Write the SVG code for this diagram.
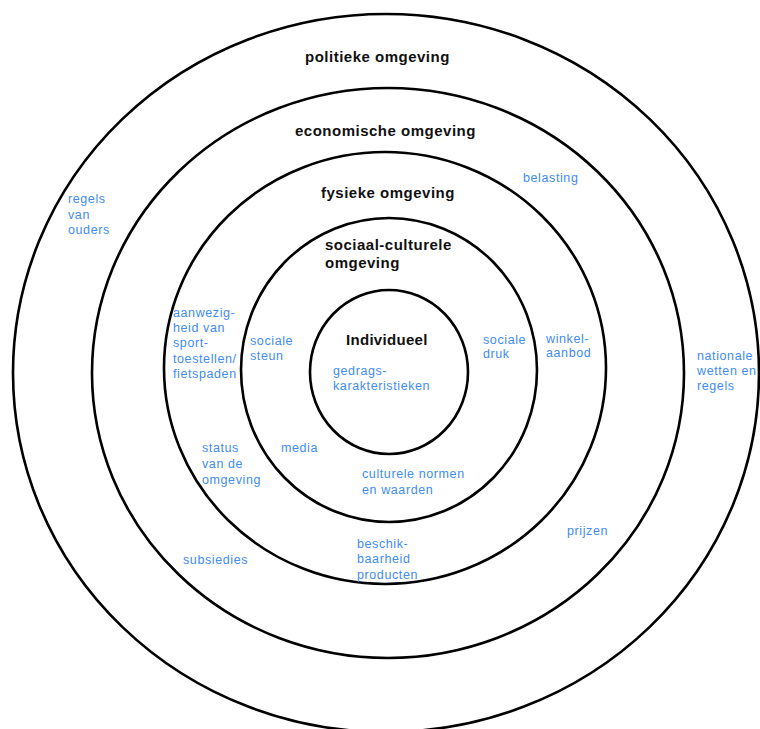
<svg xmlns="http://www.w3.org/2000/svg" width="760" height="729" viewBox="0 0 760 729">
<style>
.ring{fill:none;stroke:#000;stroke-width:2.6}
.lbl{font-family:"Liberation Sans",Arial,sans-serif;font-weight:bold;font-size:15px;fill:#111;letter-spacing:0.5px}
.f{font-family:"Liberation Sans",Arial,sans-serif;font-size:12.5px;fill:#3f8cf2;letter-spacing:0.6px}
</style>
<rect x="0" y="0" width="760" height="729" fill="#fff"/>
<g id="politieke-omgeving">
<ellipse class="ring" cx="386" cy="373" rx="373" ry="359"/>
<text class="lbl" x="305" y="62">politieke omgeving</text>
<text class="f" x="68" y="203">regels</text>
<text class="f" x="68" y="218.5">van</text>
<text class="f" x="68" y="234">ouders</text>
<text class="f" x="697" y="360">nationale</text>
<text class="f" x="697" y="375">wetten en</text>
<text class="f" x="697" y="390">regels</text>
</g>
<g id="economische-omgeving">
<ellipse class="ring" cx="388" cy="373" rx="296" ry="285"/>
<text class="lbl" x="295" y="136">economische omgeving</text>
<text class="f" x="523" y="182">belasting</text>
<text class="f" x="183" y="564">subsiedies</text>
<text class="f" x="567" y="535">prijzen</text>
</g>
<g id="fysieke-omgeving">
<ellipse class="ring" cx="385" cy="368" rx="221" ry="216"/>
<text class="lbl" x="321" y="198">fysieke omgeving</text>
<text class="f" x="173" y="317">aanwezig-</text>
<text class="f" x="173" y="332">heid van</text>
<text class="f" x="173" y="347">sport-</text>
<text class="f" x="173" y="363">toestellen/</text>
<text class="f" x="173" y="378">fietspaden</text>
<text class="f" x="546" y="343">winkel-</text>
<text class="f" x="546" y="357">aanbod</text>
<text class="f" x="202" y="452">status</text>
<text class="f" x="202" y="468">van de</text>
<text class="f" x="202" y="484">omgeving</text>
<text class="f" x="357" y="548">beschik-</text>
<text class="f" x="357" y="563">baarheid</text>
<text class="f" x="357" y="579">producten</text>
</g>
<g id="sociaal-culturele-omgeving">
<ellipse class="ring" cx="389" cy="370" rx="148" ry="152"/>
<text class="lbl" x="325" y="250">sociaal-culturele</text>
<text class="lbl" x="325" y="268">omgeving</text>
<text class="f" x="250" y="345">sociale</text>
<text class="f" x="250" y="360">steun</text>
<text class="f" x="483" y="344">sociale</text>
<text class="f" x="483" y="358">druk</text>
<text class="f" x="281" y="452">media</text>
<text class="f" x="362" y="478">culturele normen</text>
<text class="f" x="362" y="494">en waarden</text>
</g>
<g id="individueel">
<ellipse class="ring" cx="389" cy="372" rx="79" ry="82"/>
<text class="lbl" x="346" y="345" style="letter-spacing:0.3px">Individueel</text>
<text class="f" x="333" y="375">gedrags-</text>
<text class="f" x="333" y="390">karakteristieken</text>
</g>
<g id="connectors"/>
</svg>
